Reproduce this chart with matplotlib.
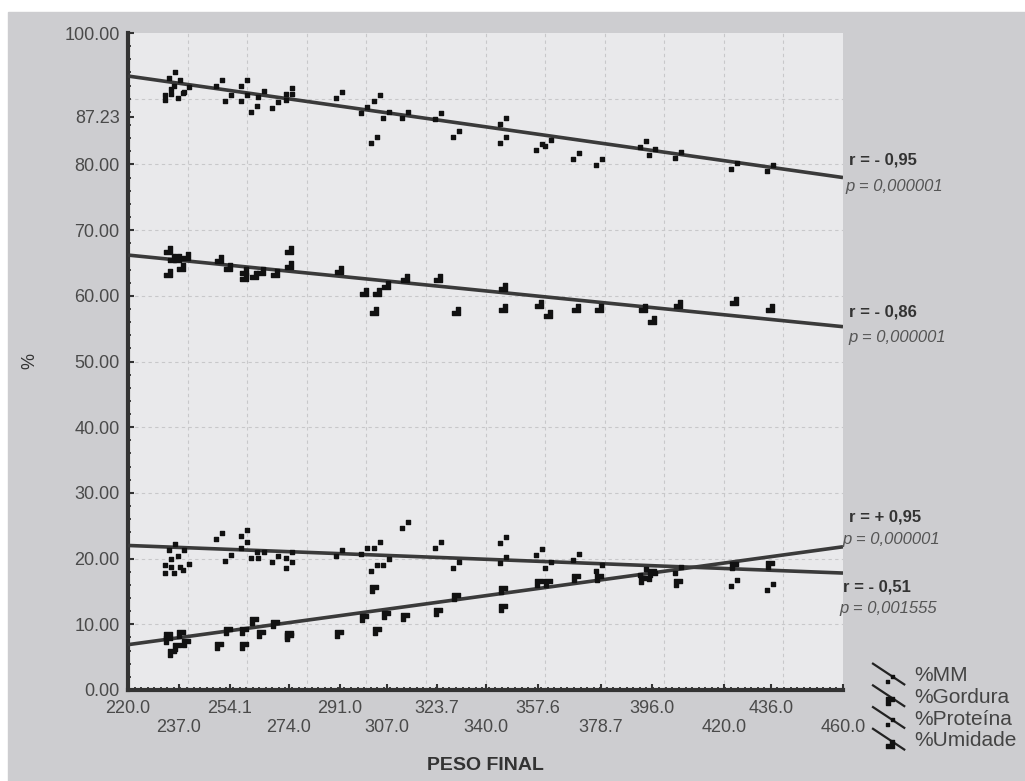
import numpy as np
import matplotlib
matplotlib.use("Agg")
import matplotlib.pyplot as plt
from matplotlib.path import Path
from matplotlib.lines import Line2D
from matplotlib.patches import Rectangle
from matplotlib.legend_handler import HandlerBase
from matplotlib.ticker import FixedLocator, MultipleLocator

plt.rcParams["font.family"] = ["Liberation Sans", "DejaVu Sans"]

# peso final de cada peixe (eixo x)
WEIGHT = [233.4, 233.4, 234.8, 236.3, 237.7, 239.5, 250.5, 253.6, 258.9, 258.9,
          262.2, 264.6, 269.3, 274.0, 274.0, 290.7, 299.3, 302.6, 303.5, 306.6,
          313.0, 324.1, 330.2, 346.0, 346.0, 357.9, 361.0, 370.5, 378.0, 392.9,
          395.8, 404.6, 423.3, 435.4]

PROTEINA = [91.0, 90.3, 93.6, 92.4, 90.5, 91.4, 92.4, 90.1, 92.4, 90.1,
            88.5, 90.7, 89.0, 91.1, 90.3, 90.5, 88.3, 83.7, 90.1, 87.5,
            87.5, 87.4, 84.7, 86.6, 83.7, 82.7, 83.3, 81.3, 80.4, 83.1,
            81.9, 81.5, 79.8, 79.4]

UMIDADE = [66.9, 63.5, 65.7, 65.7, 64.4, 66.1, 65.6, 64.4, 63.7, 62.9,
           63.2, 63.7, 63.4, 67.0, 64.7, 64.0, 60.6, 57.7, 60.6, 61.6,
           62.7, 62.7, 57.7, 61.3, 58.2, 58.8, 57.3, 58.2, 58.2, 58.2,
           56.3, 58.8, 59.2, 58.2]

MM = [19.5, 18.2, 21.8, 18.2, 20.9, 18.7, 23.4, 20.1, 23.9, 22.1,
      20.5, 20.5, 20.0, 20.5, 19.0, 20.8, 21.2, 18.5, 22.1, 19.5,
      25.1, 22.1, 19.0, 22.8, 19.8, 21.0, 19.0, 20.2, 18.6, 18.0,
      17.4, 18.3, 16.3, 15.7]

GORDURA = [8.2, 7.6, 5.7, 6.6, 8.5, 7.2, 6.7, 9.0, 6.7, 9.0,
           10.5, 8.5, 10.0, 8.4, 8.1, 8.5, 10.9, 15.3, 9.0, 11.4,
           11.1, 11.9, 14.2, 15.2, 12.5, 16.3, 16.3, 17.0, 17.0, 16.7,
           17.8, 16.3, 18.9, 19.0]

# retas de regressao (valores em x = 220 e x = 460)
FIT_X = [220.0, 460.0]
FIT_PROTEINA = [93.45, 78.0]
FIT_UMIDADE = [66.2, 55.3]
FIT_MM = [22.0, 17.8]
FIT_GORDURA = [6.9, 21.8]

XTICKS = [220.0, 237.0, 254.1, 274.0, 291.0, 307.0, 323.7, 340.0, 357.6,
          378.7, 396.0, 420.0, 436.0, 460.0]
YTICKS = [0, 10, 20, 30, 40, 50, 60, 70, 80, 87.23, 100]

LEGEND_LABELS = ["%MM", "%Gordura", "%Proteína", "%Umidade"]


def squares(rects):
    verts, codes = [], []
    for x0, y0, x1, y1 in rects:
        verts += [(x0, y0), (x1, y0), (x1, y1), (x0, y1), (x0, y0)]
        codes += [Path.MOVETO, Path.LINETO, Path.LINETO, Path.LINETO, Path.CLOSEPOLY]
    return Path(verts, codes)


DOTS = squares([(-1, -1, -0.2, -0.2), (0.2, 0.2, 1, 1)])
BLOCK_G = Path([(-1, -1), (-1, 1), (1, 1), (1, 0), (0, 0), (0, -1), (-1, -1)],
               [Path.MOVETO] + [Path.LINETO] * 5 + [Path.CLOSEPOLY])
BLOCK_U = Path([(-1, -1), (1, -1), (1, 1), (0, 1), (0, 0), (-1, 0), (-1, -1)],
               [Path.MOVETO] + [Path.LINETO] * 5 + [Path.CLOSEPOLY])


class DiagonalHandler(HandlerBase):
    def create_artists(self, legend, orig, xdescent, ydescent, width, height,
                       fontsize, trans):
        line = Line2D([0, width], [height * 1.1, -height * 0.2],
                      color="#222222", lw=1.6, transform=trans)
        mk = Line2D([width * 0.55], [height * 0.15], marker=orig.get_marker(),
                    ms=6, color="#111111", ls="none", transform=trans)
        return [line, mk]


fig = plt.figure(figsize=(10.25, 7.81), dpi=100, facecolor="white")
fig.add_artist(Rectangle((8 / 1025, 0), 1, 1 - 12 / 781, transform=fig.transFigure,
                         color="#cdcdd0", zorder=-10))

ax = fig.add_axes([128 / 1025, 1 - 690 / 781, 715 / 1025, 657 / 781])
ax.set_facecolor("#e9e9eb")
ax.set_xlim(220, 460)
ax.set_ylim(0, 100)

for v in np.arange(240, 441, 20):
    ax.axvline(v, color="#c8c8ca", ls=(0, (3, 3)), lw=0.8, zorder=0.5)
for h in np.arange(10, 91, 10):
    ax.axhline(h, color="#c8c8ca", ls=(0, (3, 3)), lw=0.8, zorder=0.5)

line_kw = dict(color="#3a3a3a", lw=2.6, zorder=3, solid_capstyle="butt")
ax.plot(FIT_X, FIT_PROTEINA, **line_kw)
ax.plot(FIT_X, FIT_UMIDADE, **line_kw)
ax.plot(FIT_X, FIT_MM, **line_kw)
ax.plot(FIT_X, FIT_GORDURA, **line_kw)

pt_kw = dict(ls="none", color="#111111", zorder=4)
ax.plot(WEIGHT, PROTEINA, marker=DOTS, ms=6.5, **pt_kw)
ax.plot(WEIGHT, UMIDADE, marker=BLOCK_U, ms=6, **pt_kw)
ax.plot(WEIGHT, MM, marker=DOTS, ms=6.5, **pt_kw)
ax.plot(WEIGHT, GORDURA, marker=BLOCK_G, ms=6, **pt_kw)

# eixos
for side in ("top", "right"):
    ax.spines[side].set_visible(False)
for side in ("left", "bottom"):
    ax.spines[side].set_linewidth(3)
    ax.spines[side].set_color("#333333")

ax.set_xticks(XTICKS)
ax.set_xticklabels([f"{v:.1f}" if i % 2 == 0 else f"\n{v:.1f}"
                    for i, v in enumerate(XTICKS)])
ax.set_yticks(YTICKS)
ax.set_yticklabels([f"{v:.2f}" for v in YTICKS])
ax.xaxis.set_minor_locator(FixedLocator(np.linspace(220, 460, 110)))
ax.yaxis.set_minor_locator(MultipleLocator(2))
ax.tick_params(which="major", direction="in", length=4, width=1.5, color="#333333",
               labelsize=13, labelcolor="#4a4a4a")
ax.tick_params(axis="x", which="major", pad=7)
ax.tick_params(axis="y", which="major", pad=6)
ax.tick_params(which="minor", direction="in", length=2.5, width=1.3, color="#333333")

ax.set_xlabel("PESO FINAL", fontsize=14, fontweight="bold", color="#333333")
ax.xaxis.set_label_coords(0.5, -0.102)
ax.set_ylabel("%", fontsize=13, color="#333333")
ax.yaxis.set_label_coords(-0.126, 0.5)

# coeficientes de correlacao
r_kw = dict(fontsize=12, fontweight="bold", color="#333333", va="center",
            ha="left", clip_on=False)
p_kw = dict(fontsize=12, style="italic", color="#555555", va="center",
            ha="left", clip_on=False)
ax.text(462.0, 80.7, "r = - 0,95", **r_kw)
ax.text(460.7, 76.6, "p = 0,000001", **p_kw)
ax.text(462.0, 57.5, "r = - 0,86", **r_kw)
ax.text(461.7, 53.6, "p = 0,000001", **p_kw)
ax.text(462.0, 26.4, "r = + 0,95", **r_kw)
ax.text(459.7, 22.9, "p = 0,000001", **p_kw)
ax.text(460.1, 15.7, "r = - 0,51", **r_kw)
ax.text(458.7, 12.4, "p = 0,001555", **p_kw)

handles = [Line2D([], [], marker=m, color="#111111", ls="none")
           for m in (DOTS, BLOCK_G, DOTS, BLOCK_U)]
leg = fig.legend(handles, LEGEND_LABELS, loc="upper left",
                 bbox_to_anchor=(873 / 1025, 1 - 666 / 781),
                 frameon=False, fontsize=15, handlelength=1.5, handleheight=0.8,
                 handletextpad=0.5, labelspacing=0.12, borderpad=0,
                 borderaxespad=0, handler_map={Line2D: DiagonalHandler()})
for t in leg.get_texts():
    t.set_color("#444444")

fig.savefig("out.png", dpi=100)
